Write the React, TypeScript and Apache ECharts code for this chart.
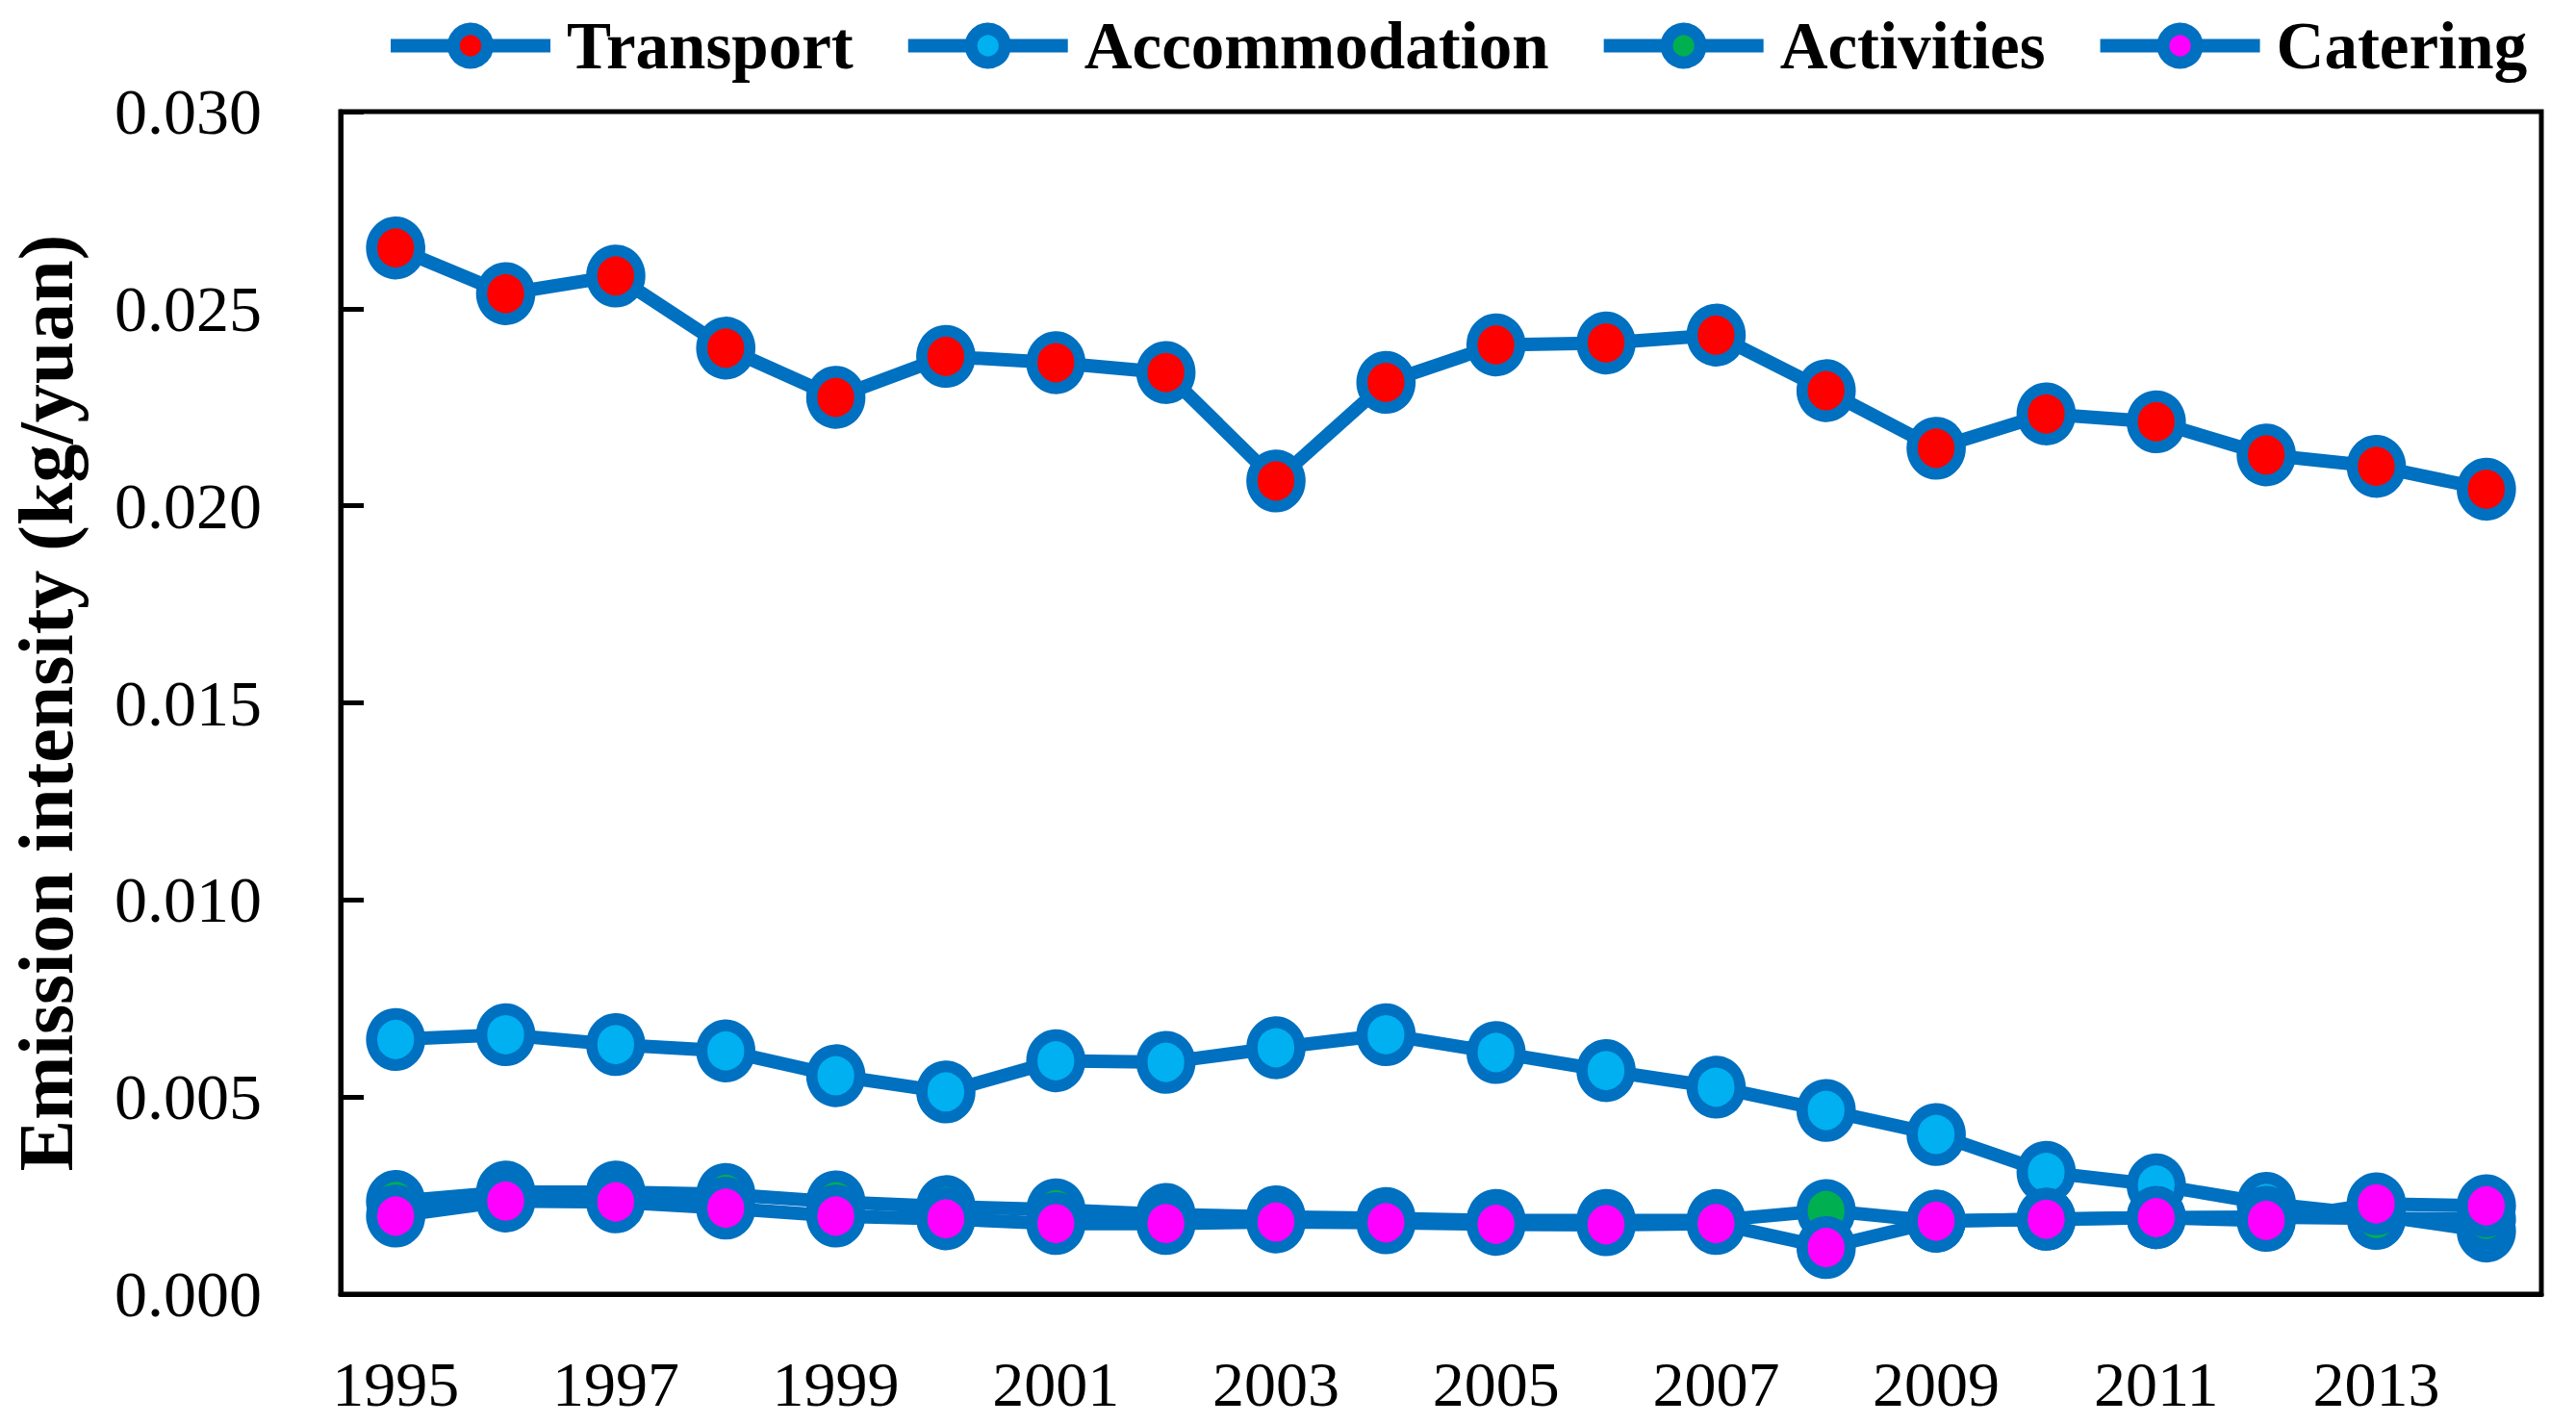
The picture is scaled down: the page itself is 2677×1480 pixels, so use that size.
import React, { useEffect, useRef } from "react";
import * as echarts from "echarts";

const years = ["1995","1996","1997","1998","1999","2000","2001","2002","2003","2004","2005","2006","2007","2008","2009","2010","2011","2012","2013","2014"];
const transport = [0.02654, 0.02538, 0.02583, 0.0240, 0.02275, 0.02379, 0.02363, 0.02338, 0.02063, 0.02313, 0.02408, 0.02413, 0.02433, 0.02292, 0.02146, 0.02233, 0.02213, 0.02129, 0.0210, 0.02042];
const accommodation = [0.00646, 0.00658, 0.00633, 0.00617, 0.00554, 0.00513, 0.00592, 0.00588, 0.00625, 0.00658, 0.00613, 0.00567, 0.00525, 0.00466, 0.00405, 0.00309, 0.00277, 0.0023, 0.0020, 0.0016];
const activities = [0.00235, 0.00259, 0.00259, 0.00253, 0.00234, 0.00222, 0.00214, 0.00202, 0.00196, 0.00192, 0.00187, 0.00187, 0.00187, 0.00212, 0.00185, 0.0019, 0.00194, 0.00195, 0.00192, 0.0019];
const catering = [0.00198, 0.00236, 0.00234, 0.00218, 0.00198, 0.00191, 0.00179, 0.00179, 0.00183, 0.00181, 0.00177, 0.00176, 0.00179, 0.00118, 0.00185, 0.0019, 0.00194, 0.00187, 0.00229, 0.00224];

const seriesNames = ["Transport", "Accommodation", "Activities", "Catering"];
const fillColors = ["#FF0000", "#00B0F0", "#00B050", "#FF00FF"];
const LINE = "#0070C0";
const FONT = "'Liberation Serif', 'Times New Roman', serif";

export default function App() {
  const ref = useRef<HTMLDivElement>(null);
  useEffect(() => {
    document.body.style.margin = "0";
    if (!ref.current) return;
    const chart = echarts.init(ref.current, null, { renderer: "svg" });
    const datas = [transport, accommodation, activities, catering];
    chart.setOption({
      animation: false,
      backgroundColor: "#ffffff",
      legend: {
        top: 8,
        left: 394,
        itemWidth: 166,
        itemHeight: 44,
        itemGap: 50,
        textStyle: {
          fontFamily: FONT,
          fontWeight: "bold",
          fontSize: 69,
          color: "#000",
          padding: [0, 0, 0, 12],
        },
        lineStyle: { width: 14, color: LINE },
        itemStyle: { borderWidth: 13, borderColor: LINE },
        data: seriesNames.map((name, i) => ({
          name,
          itemStyle: { color: fillColors[i], borderColor: LINE, borderWidth: 13 },
        })),
      },
      grid: {
        left: 350,
        right: 36,
        top: 116,
        bottom: 135,
        show: true,
        borderColor: "#000",
        borderWidth: 5,
        backgroundColor: "transparent",
      },
      xAxis: {
        type: "category",
        data: years,
        boundaryGap: true,
        axisLine: { lineStyle: { color: "#000", width: 5 } },
        axisTick: { inside: true, length: 21, interval: 0, lineStyle: { color: "#000", width: 5 } },
        axisLabel: {
          interval: 1,
          margin: 60,
          fontFamily: FONT,
          fontSize: 66,
          color: "#000",
        },
        splitLine: { show: false },
      },
      yAxis: {
        type: "value",
        min: 0,
        max: 0.03,
        interval: 0.005,
        name: "Emission intensity (kg/yuan)",
        nameLocation: "middle",
        nameGap: 266,
        nameTextStyle: {
          fontFamily: FONT,
          fontWeight: "bold",
          fontSize: 80,
          color: "#000",
        },
        axisLine: { show: true, lineStyle: { color: "#000", width: 5 } },
        axisTick: { show: true, inside: true, length: 24, lineStyle: { color: "#000", width: 5 } },
        axisLabel: {
          margin: 82,
          fontFamily: FONT,
          fontSize: 68,
          color: "#000",
          formatter: (v: number) => v.toFixed(3),
        },
        splitLine: { show: false },
      },
      series: seriesNames.map((name, i) => ({
        name,
        type: "line",
        data: datas[i],
        symbol: "circle",
        symbolSize: [50, 53],
        showSymbol: true,
        lineStyle: { color: LINE, width: 14 },
        itemStyle: { color: fillColors[i], borderColor: LINE, borderWidth: 12 },
        emphasis: { disabled: true },
      })),
    });
    return () => chart.dispose();
  }, []);
  return <div ref={ref} style={{ width: 2677, height: 1480 }} />;
}
